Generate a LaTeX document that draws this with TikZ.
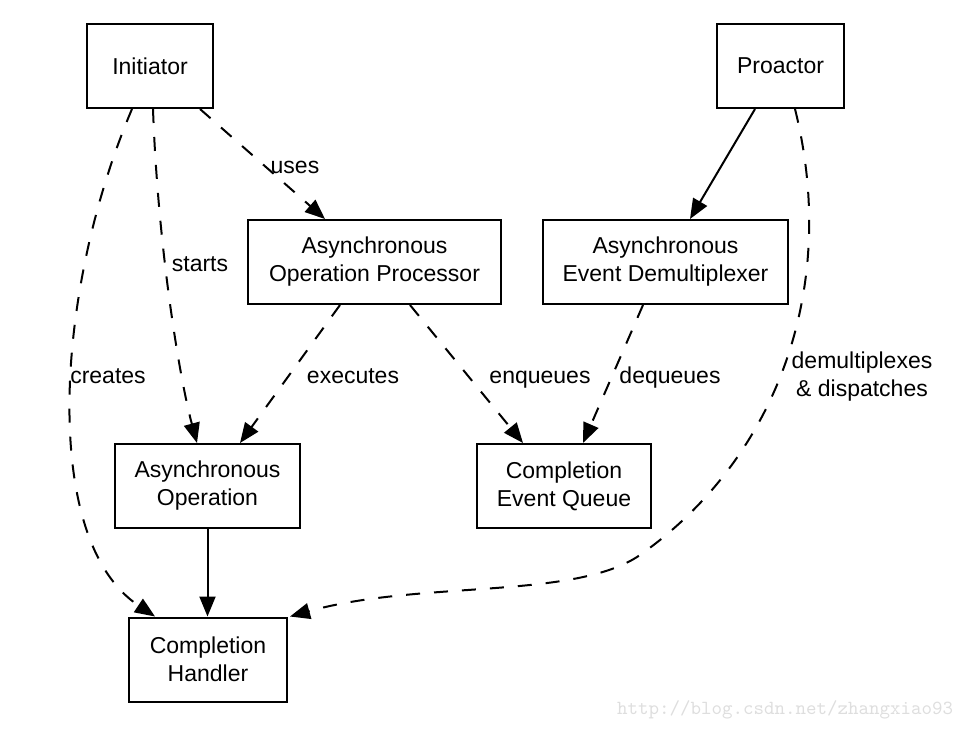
\documentclass[tikz,border=0pt]{standalone}
\usepackage{fontspec}
\setmainfont{Liberation Sans}
\usetikzlibrary{arrows.meta}
\definecolor{markgray}{RGB}{222,222,222}

\begin{document}
\begin{tikzpicture}[x=0.5pt, y=-0.5pt, font=\fontsize{11.5}{14}\selectfont,
  >={Triangle[length=10pt,width=8pt]},
  comp/.style={draw, line width=1pt, align=center, inner sep=0pt, minimum height=42pt},
  tag/.style={text height=8.5pt, text depth=2.5pt},
  dep/.style={->, line width=1pt, dash pattern=on 7pt off 7pt},
  rel/.style={->, line width=1pt}]
  \useasboundingbox (0,0) rectangle (958,729);
  \node[comp, minimum width=63pt] (init) at (150,66) {Initiator};
  \node[comp, minimum width=63.5pt] (proactor) at (780.5,66) {Proactor};
  \node[comp, minimum width=126.5pt] (aop) at (374.5,262) {Asynchronous\\Operation Processor};
  \node[comp, minimum width=122.5pt] (demux) at (665.5,262) {Asynchronous\\Event Demultiplexer};
  \node[comp, minimum width=92.5pt] (aso) at (207.5,486) {Asynchronous\\Operation};
  \node[comp, minimum width=87pt] (ceq) at (564,486) {Completion\\Event Queue};
  \node[comp, minimum width=79pt] (handler) at (208,659.5) {Completion\\Handler};
  \coordinate (bend) at (640,555);
  \draw[dep] ([xshift=25pt]init.south) -- ([xshift=-24.75pt]aop.north);
  \draw[dep] ([xshift=1.5pt]init.south) .. controls (158,250) and (180,380) .. ([xshift=-5.25pt]aso.north);
  \draw[dep] ([xshift=-9pt]init.south) .. controls (55,290) and (40,540) .. ([xshift=-26.5pt]handler.north);
  \draw[dep] ([xshift=-17.25pt]aop.south) -- ([xshift=16.25pt]aso.north);
  \draw[dep] ([xshift=17.75pt]aop.south) -- ([xshift=-20.5pt]ceq.north);
  \draw[dep] ([xshift=-11.25pt]demux.south) -- ([xshift=9.5pt]ceq.north);
  \draw[rel] ([xshift=-12.75pt]proactor.south) -- ([xshift=12.25pt]demux.north);
  \draw[rel] (aso.south) -- (aso.south |- handler.north);
  \draw[dep] ([xshift=7.25pt]proactor.south) .. controls (840,290) and (775,460) .. (bend)
    .. controls (575,600) and (420,580) .. ([xshift=41pt]handler.north);
  \node[tag] (uses) at (295,167) {uses};
  \node[tag] (starts) at (200,265) {starts};
  \node[tag] (creates) at (108,377) {creates};
  \node[tag] (executes) at (353,377) {executes};
  \node[tag] (enqueues) at (540,377) {enqueues};
  \node[tag] (dequeues) at (670,377) {dequeues};
  \node[align=center] (dispatches) at (862,377) {demultiplexes\\\& dispatches};
  \node[text=markgray, font=\ttfamily\fontsize{10}{12}\selectfont] (mark) at (785,710) {http://blog.csdn.net/zhangxiao93};
\end{tikzpicture}
\end{document}
